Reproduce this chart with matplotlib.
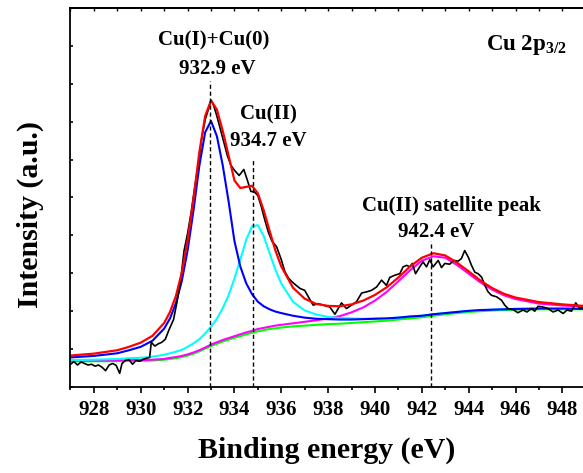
import matplotlib
matplotlib.use("Agg")
import matplotlib.pyplot as plt
from matplotlib.ticker import MultipleLocator, NullFormatter

plt.rcParams['font.family'] = ['Liberation Serif', 'DejaVu Serif']
plt.rcParams['font.weight'] = 'bold'
plt.rcParams['mathtext.fontset'] = 'custom'
plt.rcParams['mathtext.rm'] = 'Liberation Serif:bold'
plt.rcParams['mathtext.bf'] = 'Liberation Serif:bold'

# measured spectrum (black)
raw_x = [927.0, 927.15, 927.3, 927.45, 927.6, 927.75, 927.9, 928.05, 928.2, 928.35,
         928.5, 928.65, 928.8, 928.95, 929.1, 929.2, 929.35, 929.5, 929.65, 929.8,
         929.95, 930.1, 930.25, 930.38, 930.45, 930.6, 930.75, 930.9, 931.05, 931.2,
         931.4, 931.55, 931.7, 931.85, 932.0, 932.15, 932.3, 932.45, 932.6, 932.75,
         932.9, 933.0, 933.1, 933.25, 933.4, 933.55, 933.7, 933.85, 934.0, 934.2,
         934.4, 934.55, 934.7, 934.85, 935.0, 935.15, 935.3, 935.45, 935.6, 935.8,
         936.0, 936.15, 936.3, 936.45, 936.6, 936.8, 937.0, 937.2, 937.36, 937.57,
         937.79, 938.07, 938.29, 938.57, 938.78, 939.0, 939.21, 939.43, 939.64, 939.85,
         940.07, 940.28, 940.49, 940.63, 940.85, 941.06, 941.2, 941.35, 941.49, 941.59,
         941.73, 941.91, 942.05, 942.2, 942.34, 942.48, 942.7, 942.84, 942.98, 943.19,
         943.36, 943.55, 943.69, 943.83, 943.98, 944.12, 944.26, 944.4, 944.55, 944.69,
         944.83, 944.97, 945.19, 945.4, 945.54, 945.68, 945.9, 946.1, 946.32, 946.49,
         946.68, 946.82, 946.96, 947.18, 947.39, 947.6, 947.82, 948.03, 948.2, 948.39,
         948.57, 948.74, 948.86]
raw_y = [0.60, 0.67, 0.58, 0.66, 0.62, 0.58, 0.60, 0.55, 0.58, 0.52,
         0.43, 0.58, 0.62, 0.57, 0.36, 0.62, 0.70, 0.72, 0.60, 0.70,
         0.68, 0.73, 0.76, 0.78, 1.18, 1.08, 1.14, 1.18, 1.26, 1.50,
         1.78, 2.25, 2.80, 3.60, 4.05, 4.60, 5.25, 5.85, 6.55, 7.05,
         7.35, 7.57, 7.45, 7.15, 6.80, 6.45, 6.10, 5.85, 5.72, 5.58,
         5.74, 5.46, 5.16, 5.15, 5.05, 4.75, 4.40, 4.08, 3.85, 3.70,
         3.36, 3.05, 2.88, 2.78, 2.70, 2.60, 2.55, 2.33, 2.16, 2.20,
         2.16, 2.11, 1.92, 2.22, 2.07, 2.16, 2.25, 2.48, 2.51, 2.55,
         2.64, 2.82, 2.68, 2.89, 2.95, 2.99, 3.17, 3.21, 3.17, 3.26,
         2.99, 3.17, 3.30, 3.17, 3.36, 3.17, 3.34, 3.15, 3.26, 3.24,
         3.34, 3.32, 3.39, 3.60, 3.43, 3.21, 3.03, 2.99, 2.90, 2.68,
         2.51, 2.42, 2.38, 2.29, 2.16, 2.07, 2.04, 1.96, 2.03, 1.98,
         2.07, 2.00, 2.13, 2.11, 2.07, 1.98, 2.03, 1.94, 2.03, 2.00,
         2.22, 2.07, 2.11]

# fitted curves
fit_x = [927, 928, 929, 929.5, 930, 930.5, 931, 931.25, 931.5, 931.75,
         932, 932.25, 932.5, 932.75, 933, 933.25, 933.5, 933.75, 934, 934.25,
         934.5, 934.75, 935, 935.25, 935.5, 935.75, 936, 936.5, 937, 937.5,
         938, 938.5, 939, 939.5, 940, 940.5, 941, 941.5, 942, 942.5,
         943, 943.5, 944, 944.5, 945, 945.5, 946, 947, 948, 948.9]
bg_y = [0.68, 0.68, 0.68, 0.69, 0.69, 0.70, 0.72, 0.74, 0.76, 0.79,
        0.83, 0.88, 0.94, 1.01, 1.08, 1.14, 1.20, 1.25, 1.30, 1.34,
        1.39, 1.43, 1.47, 1.50, 1.53, 1.55, 1.57, 1.60, 1.62, 1.64,
        1.66, 1.67, 1.69, 1.71, 1.73, 1.75, 1.78, 1.81, 1.84, 1.88,
        1.92, 1.95, 1.98, 2.00, 2.02, 2.03, 2.04, 2.05, 2.05, 2.05]
cu1_y = [0.78, 0.82, 0.89, 0.97, 1.06, 1.22, 1.54, 1.81, 2.21, 2.79,
         3.60, 4.65, 5.83, 6.72, 7.02, 6.62, 5.85, 4.90, 3.85, 3.18,
         2.74, 2.45, 2.25, 2.13, 2.05, 1.99, 1.95, 1.88, 1.83, 1.80,
         1.79, 1.78, 1.78, 1.79, 1.80, 1.81, 1.83, 1.86, 1.88, 1.92,
         1.95, 1.98, 2.01, 2.03, 2.04, 2.05, 2.06, 2.07, 2.07, 2.06]
cu2_y = [0.71, 0.72, 0.74, 0.76, 0.77, 0.80, 0.85, 0.89, 0.93, 0.98,
         1.06, 1.15, 1.26, 1.41, 1.59, 1.80, 2.08, 2.42, 2.86, 3.36,
         3.88, 4.24, 4.27, 3.98, 3.53, 3.09, 2.73, 2.25, 2.02, 1.91,
         1.85, 1.82, 1.81, 1.80, 1.81, 1.81, 1.83, 1.86, 1.88, 1.92,
         1.95, 1.98, 2.00, 2.02, 2.04, 2.05, 2.06, 2.06, 2.06, 2.06]
sat_y = [0.69, 0.70, 0.70, 0.71, 0.71, 0.72, 0.74, 0.77, 0.79, 0.82,
         0.86, 0.91, 0.97, 1.04, 1.12, 1.18, 1.24, 1.29, 1.34, 1.39,
         1.44, 1.48, 1.53, 1.56, 1.59, 1.62, 1.64, 1.68, 1.72, 1.76,
         1.81, 1.87, 1.97, 2.10, 2.28, 2.51, 2.79, 3.08, 3.33, 3.45,
         3.41, 3.22, 2.99, 2.76, 2.57, 2.42, 2.32, 2.20, 2.15, 2.12]
sum_y = [0.83, 0.88, 0.97, 1.06, 1.17, 1.35, 1.69, 1.98, 2.40, 3.01,
         3.86, 4.95, 6.19, 7.15, 7.56, 7.32, 6.76, 6.11, 5.45, 5.25,
         5.28, 5.31, 5.11, 4.66, 4.12, 3.60, 3.18, 2.62, 2.33, 2.19,
         2.14, 2.13, 2.18, 2.28, 2.43, 2.63, 2.89, 3.18, 3.41, 3.53,
         3.47, 3.28, 3.05, 2.81, 2.61, 2.46, 2.36, 2.24, 2.18, 2.14]

# peak markers
line_x = [932.95, 934.8, 942.4]
line_top = [8.08, 6.0, 3.85]
labels = ["Cu(I)+Cu(0)", "932.9 eV", "Cu(II)", "934.7 eV",
          "Cu(II) satellite peak", "942.4 eV"]
label_x = [933.1, 933.25, 935.47, 935.45, 943.27, 942.63]
label_y = [9.13, 8.40, 7.18, 6.50, 4.77, 4.10]

fig = plt.figure(figsize=(5.83, 4.73), dpi=100)
ax = fig.add_axes([70/583, 86/473, 513/583, 379/473])

ax.plot(fit_x, bg_y, color='#00ff00', lw=1.5)
ax.plot(fit_x, sat_y, color='#ff00ff', lw=1.5)
ax.plot(fit_x, cu2_y, color='#00ffff', lw=1.5)
ax.plot(fit_x, cu1_y, color='#0000ff', lw=1.5)
ax.plot(raw_x, raw_y, color='black', lw=1.2)
ax.plot(fit_x, sum_y, color='#ff0000', lw=1.6)

for x, top in zip(line_x, line_top):
	ax.plot([x, x], [0, top], color='black', lw=1, ls=(0, (3, 2)))

for t, x, y in zip(labels, label_x, label_y):
	ax.text(x, y, t, ha='center', va='center', fontsize=15, fontweight='bold')

ax.text(944.76, 8.89, r'Cu 2p$_{\mathbf{3/2}}$', ha='left', va='baseline',
        fontsize=16.5, fontweight='bold')

ax.set_xlim(926.98, 948.88)
ax.set_ylim(0, 10)

ax.xaxis.set_major_locator(MultipleLocator(2))
ax.xaxis.set_minor_locator(MultipleLocator(1))
ax.yaxis.set_major_locator(MultipleLocator(1))
ax.yaxis.set_major_formatter(NullFormatter())
ax.tick_params(axis='x', which='major', direction='out', length=4, width=1.2,
               labelsize=15, pad=5.5, top=False)
ax.tick_params(axis='x', which='minor', direction='out', length=2.2, width=1.2, top=False)
ax.tick_params(axis='y', which='major', direction='in', length=2.5, width=1.2, right=False)

top_ax = ax.secondary_xaxis('top')
top_ax.xaxis.set_major_locator(MultipleLocator(1))
top_ax.xaxis.set_major_formatter(NullFormatter())
top_ax.tick_params(direction='in', length=2.5, width=1)
top_ax.spines['top'].set_linewidth(1.3)

ax.spines['right'].set_visible(False)
for s in ('left', 'bottom', 'top'):
	ax.spines[s].set_linewidth(1.3)

ax.set_xlabel('Binding energy (eV)', fontsize=21.5, fontweight='bold')
ax.set_ylabel('Intensity (a.u.)', fontsize=21.5, fontweight='bold')
ax.xaxis.set_label_coords(0.5, (387 - 450) / 379)
ax.xaxis.label.set_va('center')
ax.yaxis.set_label_coords((30 - 70) / 513, (387 - 215) / 379)
ax.yaxis.label.set_va('center')

fig.savefig('out.png', dpi=100)
